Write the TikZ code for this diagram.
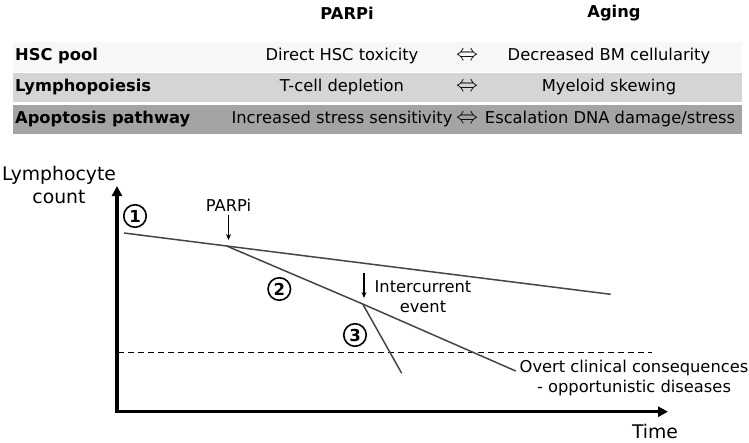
\documentclass[tikz,border=0pt]{standalone}
\usepackage{fontspec}
\usepackage{graphicx}
\setmainfont{DejaVu Sans}
\usetikzlibrary{arrows.meta}
\definecolor{rowA}{HTML}{F7F7F7}
\definecolor{rowB}{HTML}{D5D5D5}
\definecolor{rowC}{HTML}{A4A4A4}
\definecolor{curve}{HTML}{454545}
\newcommand{\eqv}{\resizebox{22pt}{8.5pt}{$\Leftrightarrow$}}
\tikzset{
  txt/.style={inner sep=0pt, font=\fontsize{16.3}{19.5}\selectfont},
  hdr/.style={inner sep=0pt, font=\fontsize{16.3}{19.5}\selectfont\bfseries},
  axlbl/.style={inner sep=0pt, align=center, font=\fontsize{18.8}{23.5}\selectfont},
  numc/.style={circle, draw, line width=1.6pt, minimum size=22.5pt, inner sep=0pt, font=\fontsize{16.5}{16.5}\selectfont\bfseries},
  axis/.style={line width=3.2pt, -{Triangle[length=10pt,width=10pt]}},
  trend/.style={line width=1.5pt, draw=curve},
  evarrow/.style={line width=1.2pt, -{Stealth[length=6pt,width=5pt]}},
}
\begin{document}
\begin{tikzpicture}[x=1pt,y=-1pt]
\useasboundingbox (0,0) rectangle (749,442);
% table rows
\fill[rowA] (13,41.7) rectangle (742,71.7);
\fill[rowB] (13,73.3) rectangle (742,101.7);
\fill[rowC] (13,105) rectangle (742,134.3);
\node[hdr] (hP) at (347,13) {PARPi};
\node[hdr] (hA) at (614,13) {Aging};
\node[hdr, anchor=west] (r1) at (15,56.5) {HSC pool};
\node[hdr, anchor=west] (r2) at (15,87.5) {Lymphopoiesis};
\node[hdr, anchor=west] (r3) at (15,119) {Apoptosis pathway};
\node[txt] (p1t) at (342,56.5) {Direct HSC toxicity};
\node[txt] (e1) at (467,56.5) {\eqv};
\node[txt] (a1t) at (609,56.5) {Decreased BM cellularity};
\node[txt] (p2t) at (342,87.5) {T-cell depletion};
\node[txt] (e2) at (467,87.5) {\eqv};
\node[txt] (a2t) at (609,87.5) {Myeloid skewing};
\node[txt] (p3t) at (342,119) {Increased stress sensitivity};
\node[txt] (e3) at (467,119) {\eqv};
\node[txt] (a3t) at (610,119) {Escalation DNA damage/stress};
% graph
\coordinate (O) at (117,411.7);
\coordinate (ytop) at (117,186);
\coordinate (xend) at (668,411.7);
\draw[axis] (O) -- (ytop);
\draw[axis] ([xshift=-1.6pt]O) -- (xend);
\node[axlbl] (ylab) at (59,185) {Lymphocyte\\count};
\node[axlbl] (xlab) at (655,431) {Time};
% dashed threshold
\coordinate (d0) at (118,352.3);
\coordinate (d1) at (652,352.3);
\draw[line width=1.4pt, dash pattern=on 6pt off 4pt] (d0) -- (d1);
% trends
\coordinate (s0) at (124,233);
\coordinate (s1) at (226.7,246);
\coordinate (s1e) at (610.7,294.3);
\coordinate (s2) at (362.7,304);
\coordinate (s2e) at (515.7,371);
\coordinate (s3e) at (401.7,373.3);
\draw[trend] (s0) -- (s1) -- (s1e);
\draw[trend] (s1) -- (s2) -- (s2e);
\draw[trend] (s2) -- (s3e);
% events
\node[txt] (parpi) at (228.5,205) {PARPi};
\coordinate (pa0) at (228.5,215);
\coordinate (pa1) at (228.5,240);
\draw[evarrow] (pa0) -- (pa1);
\node[txt, align=center] (inter) at (423,296.5) {Intercurrent\\event};
\coordinate (ia0) at (364,273);
\coordinate (ia1) at (364,298);
\draw[evarrow] (ia0) -- (ia1);
\node[txt, align=center] (overt) at (634,378) {Overt clinical consequences\\- opportunistic diseases};
% circled numbers
\node[numc] (n1) at (135,216) {1};
\node[numc] (n2) at (279.3,289) {2};
\node[numc] (n3) at (355,335) {3};
\end{tikzpicture}
\end{document}
